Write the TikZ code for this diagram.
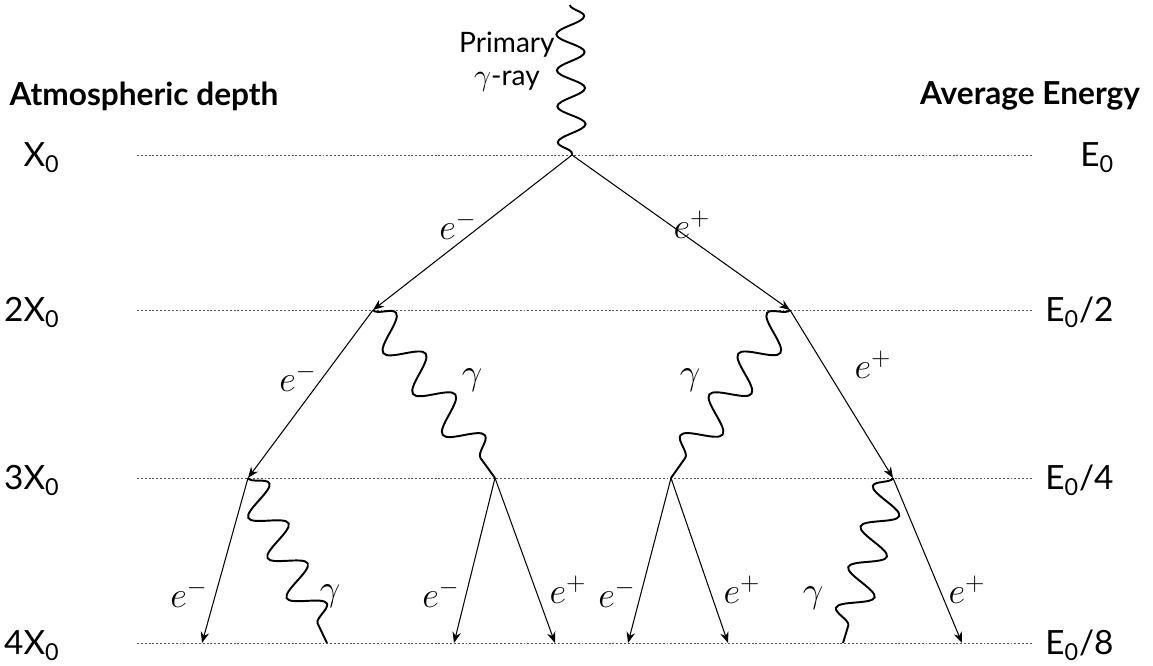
\documentclass[tikz,border=0pt]{standalone}
\usepackage{fontspec}
\setmainfont{Lato}
\usetikzlibrary{arrows.meta,decorations.pathmorphing}
\definecolor{Ink}{HTML}{000000}
\definecolor{Rule}{HTML}{555555}
\tikzset{lvl/.style={draw=Rule,line width=0.5pt,dash pattern=on 1.1pt off 1.1pt},
  heading/.style={font=\fontsize{18}{21}\selectfont\bfseries,text=Ink,inner sep=0pt},
  depthlbl/.style={anchor=base east,font=\fontsize{19}{22}\selectfont,text=Ink,inner sep=0pt},
  energylbl/.style={anchor=base west,font=\fontsize{19}{22}\selectfont,text=Ink,inner sep=0pt},
  particle/.style={font=\fontsize{21}{24}\selectfont,text=Ink,inner sep=0pt},
  lepton/.style={-{Stealth[length=2.2mm,width=1.7mm]},line width=0.6pt,draw=Ink},
  photon/.style={draw=Ink,line width=1.1pt,decorate,
    decoration={snake,amplitude=0.34cm,segment length=#1}},
  flip/.style={decoration={mirror}}}

\begin{document}
\begin{tikzpicture}[x=0.02cm,y=-0.02cm]
    \useasboundingbox (0,0) rectangle (1153,666);
    \foreach \i/\y in {0/155,1/310,2/478,3/643}{
      \coordinate (w\i) at (137,\y);
      \coordinate (e\i) at (1032,\y);
      \draw[lvl] (w\i) -- (e\i);
    }
    \node[heading] (depthhead) at (144,96) {Atmospheric depth};
    \node[heading] (energyhead) at (1030,96) {Average Energy};
    \node[depthlbl] (d0) at (60,166) {X\textsubscript{0}};
    \node[depthlbl] (d1) at (60,321) {2X\textsubscript{0}};
    \node[depthlbl] (d2) at (60,489) {3X\textsubscript{0}};
    \node[depthlbl] (d3) at (60,654) {4X\textsubscript{0}};
    \node[energylbl] (en0) at (1080,166) {E\textsubscript{0}};
    \node[energylbl] (en1) at (1045,321) {E\textsubscript{0}/2};
    \node[energylbl] (en2) at (1045,489) {E\textsubscript{0}/4};
    \node[energylbl] (en3) at (1045,654) {E\textsubscript{0}/8};
    \node[align=center,anchor=east,font=\fontsize{16}{19}\selectfont,inner sep=0pt] (primlbl)
      at (555,62) {Primary\\$\gamma$-ray};

    \coordinate (src) at (570,5);
    \coordinate (v0) at (572,155);
    \coordinate (a) at (373,310);
    \coordinate (b) at (790,310);
    \coordinate (f) at (248,478);
    \coordinate (c) at (495,478);
    \coordinate (d) at (671,478);
    \coordinate (e) at (893,478);
    \coordinate (g1) at (202,643);
    \coordinate (g2) at (327,643);
    \coordinate (c1) at (454,643);
    \coordinate (c2) at (555,643);
    \coordinate (d1) at (628,643);
    \coordinate (d2) at (728,643);
    \coordinate (h1) at (843,643);
    \coordinate (h2) at (962,643);

    \draw[photon=0.72cm,decoration={amplitude=0.28cm}] (src) -- (v0);
    \draw[lepton] (v0) -- (a);
    \draw[lepton] (v0) -- (b);
    \draw[lepton] (a) -- (f);
    \draw[photon=1.01cm] (a) -- (c);
    \draw[photon=1.0cm,flip] (b) -- (d);
    \draw[lepton] (b) -- (e);
    \draw[lepton] (f) -- (g1);
    \draw[photon=0.89cm] (f) -- (g2);
    \draw[lepton] (c) -- (c1);
    \draw[lepton] (c) -- (c2);
    \draw[lepton] (d) -- (d1);
    \draw[lepton] (d) -- (d2);
    \draw[photon=0.85cm,flip] (e) -- (h1);
    \draw[lepton] (e) -- (h2);

    \node[particle] (t1) at (458,226) {$e^-$};
    \node[particle] (t2) at (692,225) {$e^+$};
    \node[particle] (t3) at (298,378) {$e^-$};
    \node[particle] (t4) at (472,380) {$\gamma$};
    \node[particle] (t5) at (690,380) {$\gamma$};
    \node[particle] (t6) at (873,365) {$e^+$};
    \node[particle] (t7) at (189,594) {$e^-$};
    \node[particle] (t8) at (330,596) {$\gamma$};
    \node[particle] (t9) at (441,594) {$e^-$};
    \node[particle] (t10) at (568,590) {$e^+$};
    \node[particle] (t11) at (617,594) {$e^-$};
    \node[particle] (t12) at (742,590) {$e^+$};
    \node[particle] (t13) at (813,598) {$\gamma$};
    \node[particle] (t14) at (967,590) {$e^+$};
  \end{tikzpicture}
\end{document}
